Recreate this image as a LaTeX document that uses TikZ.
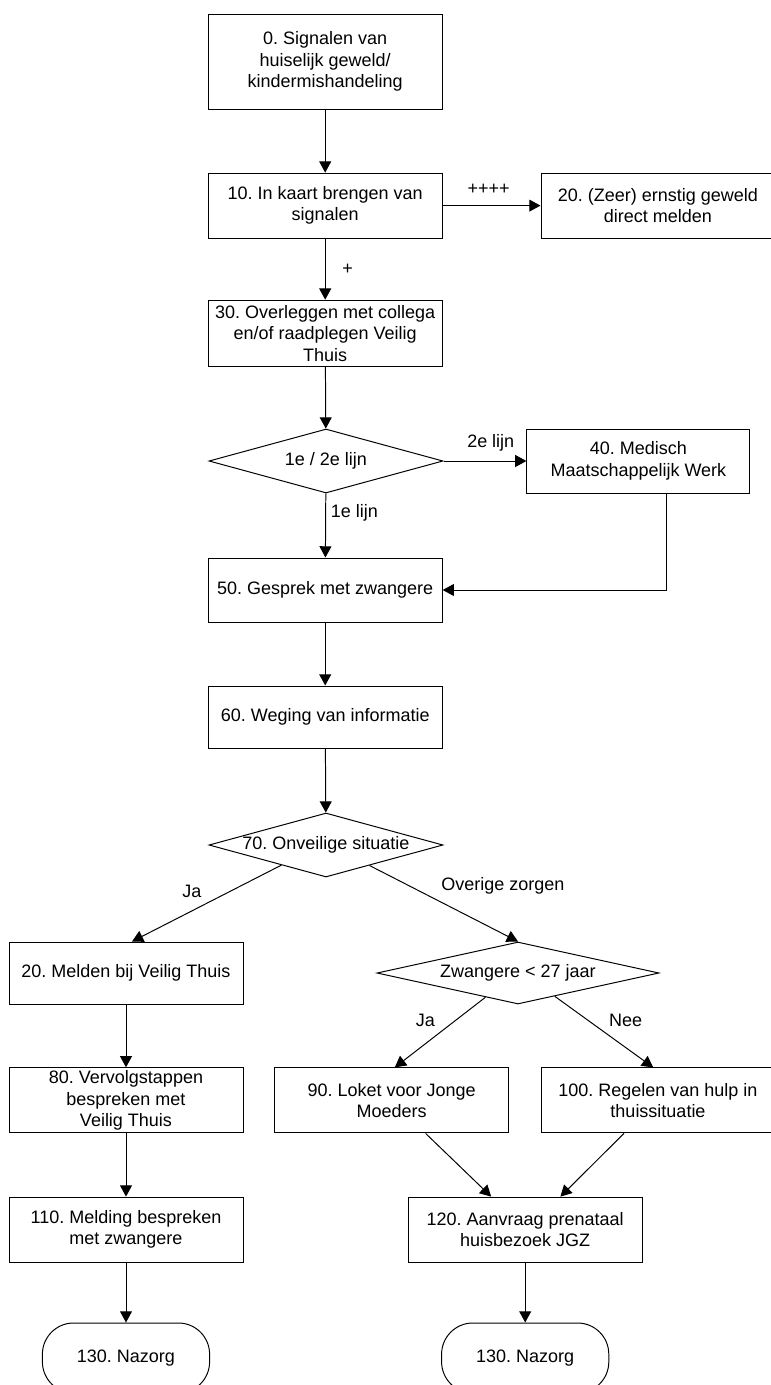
\documentclass[tikz,border=0pt]{standalone}
\usepackage{fontspec}
\setmainfont{Liberation Sans}
\usepackage{tikz}
\usetikzlibrary{shapes.geometric, arrows.meta, positioning, calc}
\frenchspacing

\begin{document}
\begin{tikzpicture}[
  font=\fontsize{12.8}{15.2}\selectfont,
  stepbox/.style={draw, line width=0.7pt, align=center, minimum width=5.85cm, minimum height=1.625cm, inner sep=2pt},
  decision/.style={diamond, draw, line width=0.7pt, aspect=3.6, inner sep=0pt, minimum width=5.85cm, minimum height=1.6cm},
  endbox/.style={draw, line width=0.7pt, rounded corners=0.78cm, minimum width=4.18cm, minimum height=1.75cm},
  flow/.style={-{Triangle[length=8pt, width=8.5pt]}, line width=0.7pt}
]
\useasboundingbox (0, 0) rectangle (19.275, -34.625);
\clip (0, 0) rectangle (19.275, -34.625);

% Main column
\node[stepbox, minimum height=2.375cm] (sig) at (8.13, -1.54) {0. Signalen van\\huiselijk geweld/\\kindermishandeling};
\node[stepbox] (kaart) at (8.13, -5.14) {10. In kaart brengen van\\signalen};
\node[stepbox] (direct) at (16.45, -5.14) {20. (Zeer) ernstig geweld\\direct melden};
\node[stepbox, minimum height=1.65cm] (overleg) at (8.13, -8.33) {30. Overleggen met collega\\en/of raadplegen Veilig\\Thuis};
\node[decision] (lijn) at (8.15, -11.525) {\makebox[0pt]{1e / 2e lijn}};
\node[stepbox, minimum width=5.575cm, minimum height=1.6cm] (mmw) at (15.96, -11.525) {40. Medisch\\Maatschappelijk Werk};
\node[stepbox, minimum height=1.6cm] (gesprek) at (8.13, -14.75) {50. Gesprek met zwangere};
\node[stepbox, minimum height=1.55cm] (weging) at (8.13, -17.925) {60. Weging van informatie};
\node[decision] (onveilig) at (8.15, -21.125) {\makebox[0pt]{70. Onveilige situatie}};

% Left branch
\node[stepbox, minimum height=1.55cm] (melden) at (3.15, -24.325) {20. Melden bij Veilig Thuis};
\node[stepbox] (vervolg) at (3.15, -27.51) {80. Vervolgstappen\\bespreken met\\Veilig Thuis};
\node[stepbox] (melding) at (3.15, -30.74) {110. Melding bespreken\\met zwangere};
\node[endbox] (nazorgL) at (3.15, -33.95) {130. Nazorg};

% Right branch
\node[decision, minimum width=7.05cm, minimum height=1.55cm] (leeftijd) at (12.95, -24.325) {\makebox[0pt]{Zwangere < 27 jaar}};
\node[stepbox] (loket) at (9.79, -27.51) {90. Loket voor Jonge\\Moeders};
\node[stepbox] (hulp) at (16.45, -27.51) {100. Regelen van hulp in\\thuissituatie};
\node[stepbox] (aanvraag) at (13.13, -30.74) {120. Aanvraag prenataal\\huisbezoek JGZ};
\node[endbox] (nazorgR) at (13.13, -33.95) {130. Nazorg};

% Connectors
\draw[flow] (sig) -- (kaart);
\draw[flow] (kaart) -- node[above=4pt, pos=0.47] {++++} (direct);
\draw[flow] (kaart) -- node[right=0.3cm] {+} (overleg);
\draw[flow] (overleg) -- (lijn);
\draw[flow] (lijn) -- node[above=3pt, pos=0.57] {2e lijn} (mmw);
\draw[flow] (lijn) -- node[right, pos=0.3] {1e lijn} (gesprek);
\draw[flow] ([xshift=0.69cm]mmw.south) |- (gesprek.east);
\draw[flow] (gesprek) -- (weging);
\draw[flow] (weging) -- (onveilig);
\draw[flow] ($(onveilig.west)!0.62!(onveilig.south)$) -- node[above left=0pt] {Ja} ([xshift=0.15cm]melden.north);
\draw[flow] ($(onveilig.south)!0.37!(onveilig.east)$) -- node[above right=0pt, pos=0.45] {Overige zorgen} (leeftijd.north);
\draw[flow] ($(leeftijd.west)!0.77!(leeftijd.south)$) -- node[above left=0pt] {Ja} ([xshift=0.08cm]loket.north);
\draw[flow] ($(leeftijd.south)!0.26!(leeftijd.east)$) -- node[above right=0pt] {Nee} ([xshift=-0.12cm]hulp.north);
\draw[flow] (melden) -- (vervolg);
\draw[flow] (vervolg) -- (melding);
\draw[flow] (melding) -- (nazorgL);
\draw[flow] ([xshift=0.85cm]loket.south) -- ([xshift=-0.85cm]aanvraag.north);
\draw[flow] ([xshift=-0.85cm]hulp.south) -- ([xshift=0.88cm]aanvraag.north);
\draw[flow] (aanvraag) -- (nazorgR);

\end{tikzpicture}
\end{document}
